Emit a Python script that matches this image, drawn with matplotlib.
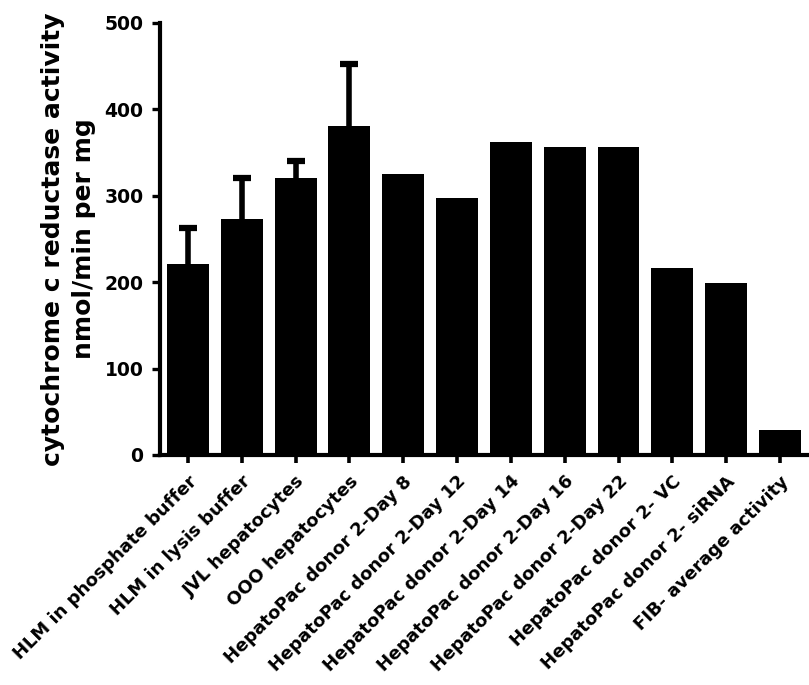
import numpy as np
import matplotlib
matplotlib.use('Agg')
import matplotlib.pyplot as plt

labels = ['HLM in phosphate buffer', 'HLM in lysis buffer', 'JVL hepatocytes',
          'OOO hepatocytes', 'HepatoPac donor 2-Day 8', 'HepatoPac donor 2-Day 12',
          'HepatoPac donor 2-Day 14', 'HepatoPac donor 2-Day 16', 'HepatoPac donor 2-Day 22',
          'HepatoPac donor 2- VC', 'HepatoPac donor 2- siRNA', 'FIB- average activity']
values = [221, 273, 320, 381, 325, 297, 362, 356, 356, 216, 199, 29]
err_up = [42, 47, 20, 72, 0, 0, 0, 0, 0, 0, 0, 0]
yticks = [0, 100, 200, 300, 400, 500]

plt.rcParams['font.family'] = ['DejaVu Sans']
plt.rcParams['font.weight'] = 'bold'

fig = plt.figure(figsize=(8.09, 6.85), dpi=100)
ax = fig.add_axes([0.1978, 0.3358, 0.8022, 0.6307])

x = np.arange(len(values))
ax.bar(x, values, width=0.78, color='black', edgecolor='none', zorder=2)

# only upper error bars, first four groups have them
idx = [i for i, e in enumerate(err_up) if e > 0]
eb = ax.errorbar(x[idx], [values[i] for i in idx],
                 yerr=[[0] * len(idx), [err_up[i] for i in idx]],
                 fmt='none', ecolor='black', elinewidth=4, capsize=6.5, capthick=4.5, zorder=3)
# hide the lower caps (sit on the bar tops)
caps = eb[1]
if len(caps) == 2:
    caps[0].set_visible(False)

ax.set_ylim(0, 500)
ax.set_xlim(-0.52, 11.54)
ax.set_yticks(yticks)
ax.set_xticks(x)
ax.set_xticklabels(labels, rotation=45, ha='right', rotation_mode='anchor', fontsize=13)
ax.tick_params(axis='y', labelsize=13.5, length=6, width=2.4, pad=6)
ax.tick_params(axis='x', length=5.5, width=2.6, pad=7)

for s in ['top', 'right']:
    ax.spines[s].set_visible(False)
for s in ['left', 'bottom']:
    ax.spines[s].set_linewidth(3)

ax.set_ylabel('cytochrome c reductase activity\nnmol/min per mg', fontsize=18,
              fontweight='bold', labelpad=6, linespacing=1.35)

fig.savefig('out.png', dpi=100)
